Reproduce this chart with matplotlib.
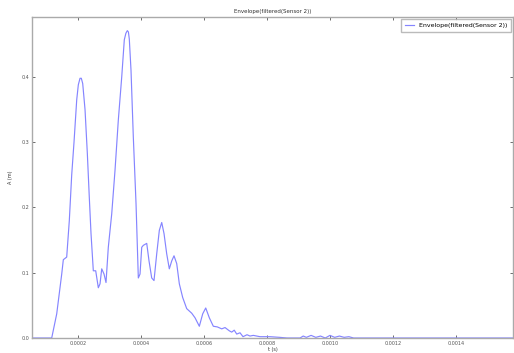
import numpy as np
import matplotlib

matplotlib.use('Agg')
import matplotlib.pyplot as plt

# envelope of filtered sensor 2 signal, time in microseconds
t_us = [54, 80, 116.5, 132.4, 148.3, 153.4, 164.1, 172.4, 180.0, 187.3, 195.9,
        201.0, 206.4, 210.5, 214.9, 222.3, 229.6, 235.9, 241.3, 248.6, 256.2,
        264.5, 269.9, 275.3, 282.6, 288.9, 296.2, 307.0, 317.5, 328.0, 338.8,
        347.0, 352.0, 356.6, 360.0, 362.9, 368.3, 375.6, 384.2, 391.5, 396.9,
        402.3, 407.4, 418.2, 425.5, 434.0, 441.3, 449.9, 458.2, 465.8, 473.1,
        481.6, 489.9, 497.5, 504.8, 513.4, 521.7, 532.4, 545.1, 561.0, 571.5,
        585.2, 595.9, 605.5, 616.9, 629.6, 642.3, 656.3, 666.8, 680.4, 688.0,
        696.0, 703.9, 714.4, 723.9, 736.6, 746.0, 756.6, 777.9, 809.6, 840.0,
        863.6, 905.0, 915.0, 925.0, 940.0, 955.0, 970.0, 985.0, 1000.0, 1015.0,
        1030.0, 1045.0, 1060.0, 1075.0, 1200.0, 1400.0, 1581.0]
amp = [0.0, 0.0, 0.0, 0.037, 0.098, 0.12, 0.124, 0.18, 0.25, 0.30, 0.365,
       0.388, 0.398, 0.398, 0.390, 0.35, 0.283, 0.215, 0.16, 0.103, 0.103,
       0.077, 0.083, 0.106, 0.098, 0.085, 0.139, 0.19, 0.257, 0.334, 0.40,
       0.457, 0.467, 0.471, 0.469, 0.458, 0.41, 0.308, 0.206, 0.092, 0.098,
       0.139, 0.142, 0.145, 0.118, 0.092, 0.088, 0.129, 0.165, 0.177, 0.16,
       0.129, 0.106, 0.118, 0.126, 0.114, 0.083, 0.062, 0.045, 0.038, 0.031,
       0.018, 0.037, 0.046, 0.031, 0.018, 0.017, 0.014, 0.016, 0.011, 0.009,
       0.012, 0.006, 0.008, 0.002, 0.005, 0.003, 0.004, 0.002, 0.002, 0.001,
       0.0, 0.0, 0.003, 0.001, 0.004, 0.001, 0.003, 0.0, 0.004, 0.001,
       0.003, 0.001, 0.002, 0.0, 0.0, 0.0, 0.0]

x_ticks = [0.0002, 0.0004, 0.0006, 0.0008, 0.0010, 0.0012, 0.0014]
x_labels = ['0.0002', '0.0004', '0.0006', '0.0008', '0.0010', '0.0012', '0.0014']
y_ticks = [0.0, 0.1, 0.2, 0.3, 0.4]
y_labels = ['0.0', '0.1', '0.2', '0.3', '0.4']

t = np.array(t_us) * 1e-6

fig = plt.figure(figsize=(5.14, 3.53), dpi=100)
ax = fig.add_axes([0.0623, 0.0425, 0.9357, 0.9095])
ax.plot(t, amp, color='#8585ff', lw=0.85, label='Envelope(filtered(Sensor 2))')
ax.set_xlim(54e-6, 1581e-6)
ax.set_ylim(0, 0.492)
ax.set_xticks(x_ticks)
ax.set_xticklabels(x_labels)
ax.set_yticks(y_ticks)
ax.set_yticklabels(y_labels)
ax.tick_params(direction='in', top=True, right=True, length=2.5, width=0.6,
               labelsize=3.5, pad=2, colors='#555555')
for s in ax.spines.values():
    s.set_color('#aaaaaa')
    s.set_linewidth(1.0)
ax.set_title('Envelope(filtered(Sensor 2))', fontsize=4, pad=3, color='#333333')
ax.set_xlabel('t (s)', fontsize=3.5, labelpad=1, color='#333333')
ax.set_ylabel('A (m)', fontsize=3.5, labelpad=6, color='#333333')
leg = ax.legend(loc='upper right', fontsize=4.5, handlelength=1.5,
                borderaxespad=0.3, borderpad=0.6, fancybox=False)
leg.get_frame().set_edgecolor('#aaaaaa')

fig.savefig('out.png', dpi=100)
